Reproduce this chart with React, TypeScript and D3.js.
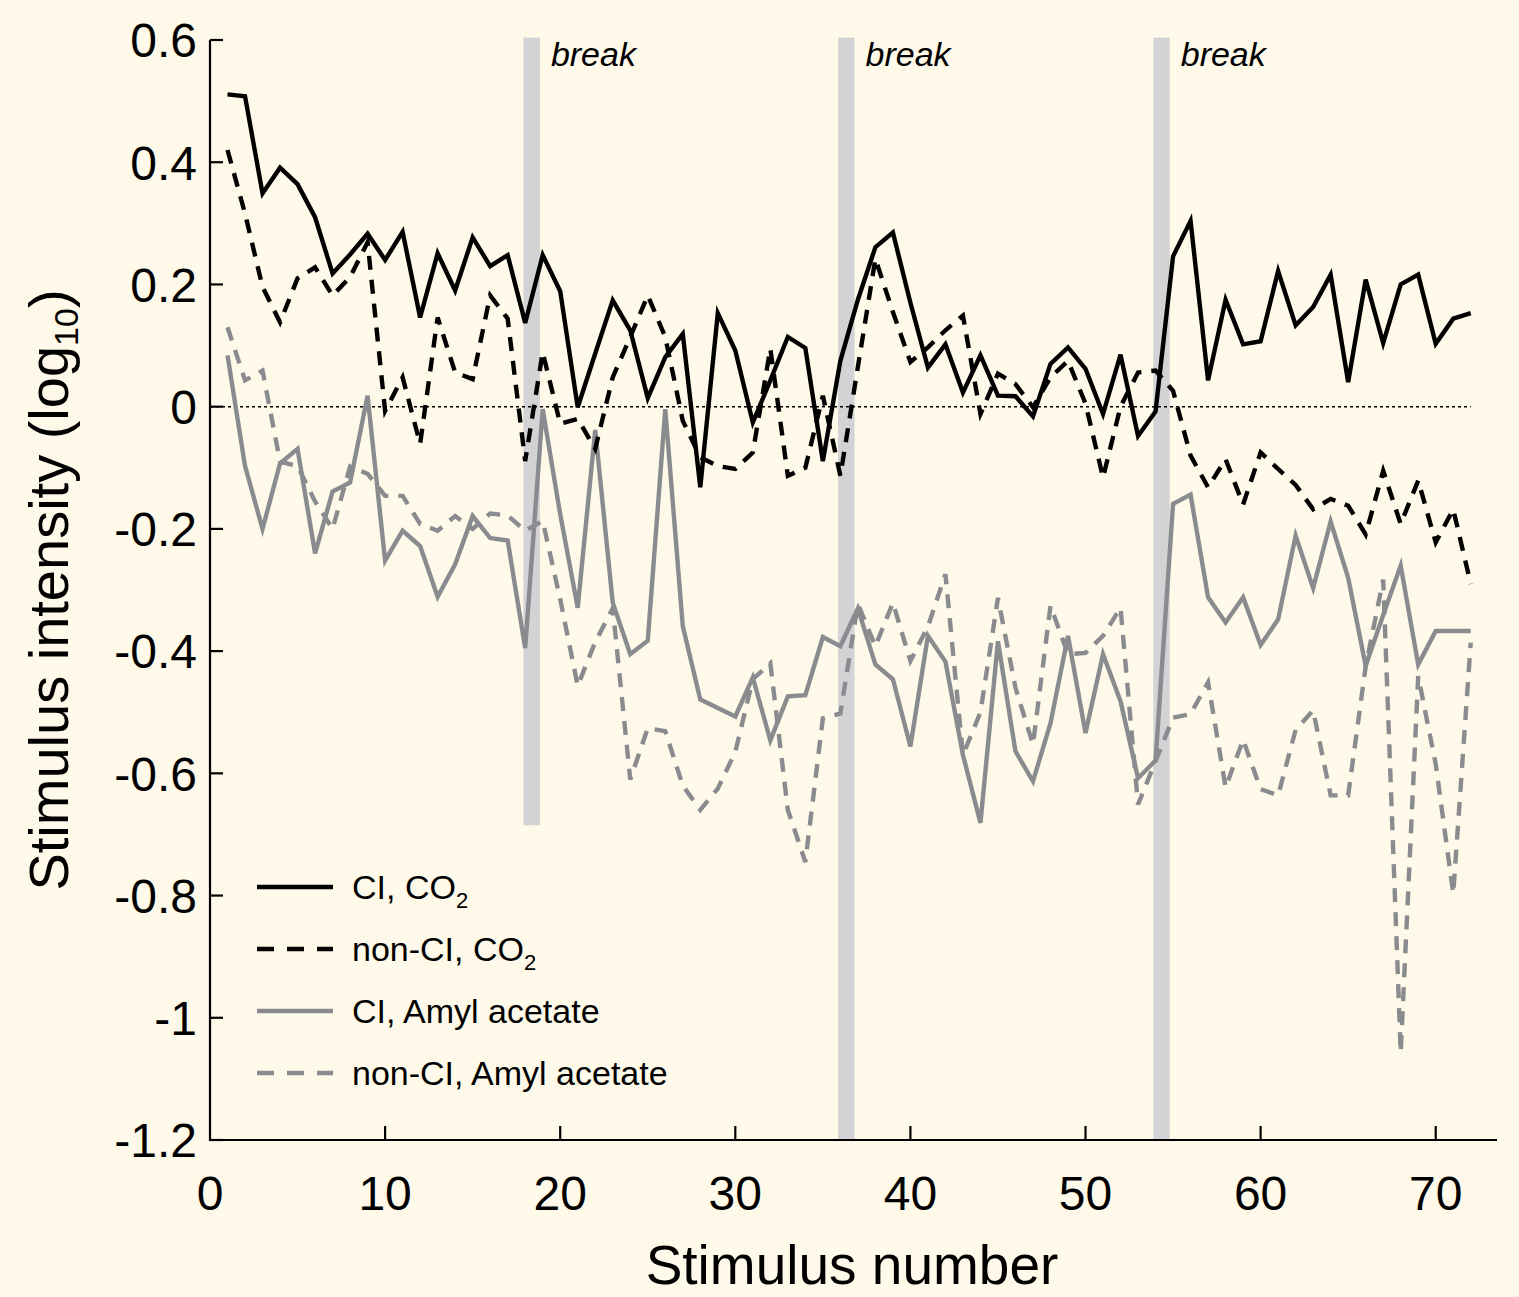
import React from "react";
import * as d3 from "d3";

const ciCO2 = [0.511,0.508,0.349,0.391,0.364,0.310,0.218,0.249,0.283,0.240,0.286,0.146,0.251,0.190,0.277,0.230,0.248,0.137,0.248,0.189,-0.001,0.087,0.174,0.125,0.014,0.081,0.119,-0.132,0.153,0.092,-0.026,0.043,0.114,0.096,-0.089,0.075,0.175,0.261,0.285,0.170,0.064,0.102,0.023,0.084,0.018,0.017,-0.016,0.070,0.097,0.062,-0.012,0.085,-0.048,-0.008,0.246,0.304,0.043,0.175,0.102,0.107,0.222,0.133,0.163,0.216,0.040,0.208,0.104,0.200,0.216,0.103,0.144,0.153];
const nonCiCO2 = [0.420,0.316,0.196,0.138,0.210,0.228,0.182,0.212,0.269,-0.007,0.048,-0.061,0.146,0.056,0.045,0.182,0.144,-0.089,0.089,-0.028,-0.020,-0.069,0.048,0.114,0.182,0.114,-0.023,-0.083,-0.097,-0.102,-0.075,0.095,-0.113,-0.100,0.018,-0.113,0.065,0.242,0.155,0.073,0.097,0.125,0.149,-0.012,0.054,0.037,-0.001,0.048,0.075,0.005,-0.116,0.000,0.056,0.059,0.026,-0.080,-0.132,-0.086,-0.160,-0.075,-0.102,-0.128,-0.168,-0.151,-0.162,-0.209,-0.105,-0.192,-0.121,-0.222,-0.168,-0.290];
const ciAmyl = [0.084,-0.097,-0.200,-0.093,-0.069,-0.240,-0.139,-0.124,0.018,-0.252,-0.203,-0.228,-0.311,-0.258,-0.179,-0.215,-0.219,-0.395,-0.004,-0.176,-0.329,-0.038,-0.321,-0.405,-0.383,-0.004,-0.359,-0.479,-0.493,-0.507,-0.443,-0.546,-0.474,-0.472,-0.377,-0.392,-0.330,-0.422,-0.446,-0.556,-0.375,-0.417,-0.570,-0.681,-0.384,-0.564,-0.613,-0.518,-0.375,-0.534,-0.405,-0.482,-0.608,-0.579,-0.159,-0.144,-0.312,-0.353,-0.312,-0.390,-0.348,-0.211,-0.297,-0.188,-0.280,-0.424,-0.341,-0.260,-0.422,-0.367,-0.367,-0.367];
const nonCiAmyl = [0.130,0.043,0.059,-0.090,-0.097,-0.155,-0.200,-0.098,-0.110,-0.146,-0.146,-0.192,-0.203,-0.179,-0.200,-0.175,-0.178,-0.203,-0.187,-0.315,-0.457,-0.385,-0.330,-0.610,-0.526,-0.531,-0.620,-0.660,-0.625,-0.565,-0.446,-0.420,-0.660,-0.745,-0.510,-0.502,-0.323,-0.392,-0.321,-0.416,-0.360,-0.274,-0.570,-0.500,-0.313,-0.460,-0.553,-0.326,-0.405,-0.403,-0.375,-0.329,-0.651,-0.580,-0.509,-0.503,-0.451,-0.623,-0.545,-0.626,-0.636,-0.529,-0.497,-0.636,-0.636,-0.425,-0.283,-1.057,-0.441,-0.585,-0.797,-0.386];

const xTicks = [0, 10, 20, 30, 40, 50, 60, 70];
const yTicks = [0.6, 0.4, 0.2, 0, -0.2, -0.4, -0.6, -0.8, -1, -1.2];
const breakCenters = [18.37, 36.34, 54.34];
const breakBottoms = [-0.685, -1.2, -1.2];
const breakLabel = "break";

const BG = "#fef9e8";
const GRAY = "#8a8b8f";
const BAND = "#d3d2d4";
const FONT = "'Liberation Sans', Arial, Helvetica, sans-serif";

export default function App() {
  const W = 1519, H = 1297;
  const x = d3.scaleLinear().domain([0, 73.5]).range([210, 1497]);
  const y = d3.scaleLinear().domain([-1.2, 0.6]).range([1140, 40]);
  const line = d3.line<number>().x((_, i) => x(i + 1)).y((d) => y(d));

  const series = [
    { data: nonCiAmyl, color: GRAY, dash: "14 10" },
    { data: ciAmyl, color: GRAY, dash: undefined },
    { data: nonCiCO2, color: "#000", dash: "14 10" },
    { data: ciCO2, color: "#000", dash: undefined },
  ];

  const legend = [
    { color: "#000", dash: undefined, label: "CI, CO", sub: "2" },
    { color: "#000", dash: "17 13", label: "non-CI, CO", sub: "2" },
    { color: GRAY, dash: undefined, label: "CI, Amyl acetate", sub: "" },
    { color: GRAY, dash: "17 13", label: "non-CI, Amyl acetate", sub: "" },
  ];

  return (
    <div style={{ position: "absolute", left: 0, top: 0 }}>
      <svg width={W} height={H} style={{ display: "block", background: BG }} fontFamily={FONT}>
        <rect x={0} y={0} width={W} height={H} fill={BG} />
        {breakCenters.map((c, i) => (
          <g key={"b" + i}>
            <rect x={x(c - 0.47)} y={y(0.604)} width={x(c + 0.47) - x(c - 0.47)} height={y(breakBottoms[i]) - y(0.604)} fill={BAND} />
            <text x={x(c + 0.47) + 11} y={66} fontSize={34} fontStyle="italic" fill="#000">{breakLabel}</text>
          </g>
        ))}
        <line x1={x(0)} x2={x(72)} y1={y(0)} y2={y(0)} stroke="#000" strokeWidth={1.5} strokeDasharray="3 3" />
        {series.map((s, i) => (
          <path key={"s" + i} d={line(s.data) || ""} fill="none" stroke={s.color} strokeWidth={4.4} strokeDasharray={s.dash} strokeLinejoin="miter" strokeMiterlimit={4} />
        ))}
        <line x1={210} x2={210} y1={y(0.6)} y2={1141} stroke="#000" strokeWidth={2.2} />
        <line x1={209} x2={1497} y1={1140} y2={1140} stroke="#000" strokeWidth={2.2} />
        {yTicks.map((t) => (
          <g key={"yt" + t}>
            <line x1={210} x2={223} y1={y(t)} y2={y(t)} stroke="#000" strokeWidth={2.2} />
            <text x={197} y={y(t)} dy="0.36em" textAnchor="end" fontSize={48} fill="#000">{String(t)}</text>
          </g>
        ))}
        {xTicks.map((t) => (
          <g key={"xt" + t}>
            {t > 0 && <line x1={x(t)} x2={x(t)} y1={1140} y2={1126} stroke="#000" strokeWidth={2.2} />}
            <text x={x(t)} y={1210} textAnchor="middle" fontSize={48} fill="#000">{String(t)}</text>
          </g>
        ))}
        <text x={852} y={1284} textAnchor="middle" fontSize={55} fill="#000">Stimulus number</text>
        <text transform="translate(68,590) rotate(-90)" textAnchor="middle" fontSize={56} fill="#000">
          Stimulus intensity (log<tspan fontSize={34} dy={10}>10</tspan><tspan dy={-10}>)</tspan>
        </text>
        {legend.map((l, i) => {
          const ly = 887 + i * 62;
          return (
            <g key={"l" + i}>
              <line x1={257} x2={333} y1={ly} y2={ly} stroke={l.color} strokeWidth={4.5} strokeDasharray={l.dash} />
              <text x={352} y={ly + 12} fontSize={34} fill="#000">
                {l.label}
                {l.sub && <tspan fontSize={22} dy={9}>{l.sub}</tspan>}
              </text>
            </g>
          );
        })}
      </svg>
    </div>
  );
}
